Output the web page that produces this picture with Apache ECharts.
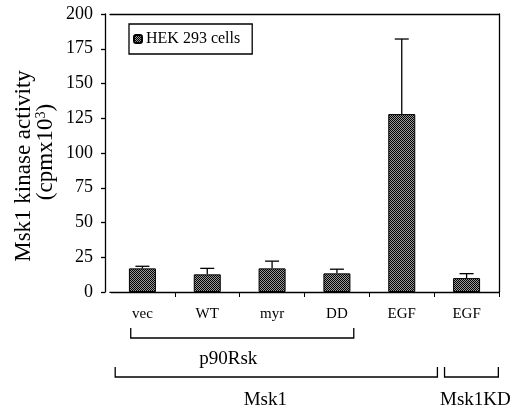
<!DOCTYPE html>
<html><head><meta charset="utf-8">
<script src="https://cdn.jsdelivr.net/npm/echarts@6/dist/echarts.min.js"></script>
<style>html,body{margin:0;padding:0;background:#fff}#c{width:513px;height:410px}</style>
</head><body><div id="c"></div>
<script>
var categories = ['vec', 'WT', 'myr', 'DD', 'EGF', 'EGF'];
var activity = [17, 12.7, 17, 13.4, 128, 10];
var errors = [1.5, 4.3, 5.2, 3, 54, 3.2];
var yTicks = [0, 25, 50, 75, 100, 125, 150, 175, 200];
var seriesName = 'HEK 293 cells';
var yTitle1 = 'Msk1 kinase activity';
var yTitle2 = '(cpmx10{s|3})';
// bracket groups: label, first category, last category
var bracketNames = ['p90Rsk', 'Msk1', 'Msk1KD'];
var bracketFrom = [0, 0, 5];
var bracketTo = [3, 4, 5];

var FONT = 'Liberation Serif';
var pc = document.createElement('canvas');
pc.width = 2; pc.height = 2;
var pctx = pc.getContext('2d');
pctx.fillStyle = '#9a9a9a'; pctx.fillRect(0, 0, 2, 2);
pctx.fillStyle = '#000'; pctx.fillRect(0, 0, 1, 1); pctx.fillRect(1, 1, 1, 1);
var pattern = {image: pc, repeat: 'repeat'};

var chart = echarts.init(document.getElementById('c'));
chart.setOption({
  animation: false,
  backgroundColor: '#fff',
  grid: {left: 110, right: 14, top: 14, bottom: 118},
  legend: {
    left: 129, top: 24, orient: 'horizontal',
    data: [seriesName],
    itemWidth: 8, itemHeight: 8, itemGap: 4,
    padding: [7, 12, 7, 4],
    borderColor: '#000', borderWidth: 1.3,
    textStyle: {fontFamily: FONT, fontSize: 16, color: '#000', padding: [0, 0, 0, -1]}
  },
  xAxis: [{
    type: 'category', data: categories, position: 'bottom',
    axisLine: {onZero: false, lineStyle: {color: '#000', width: 1.3}},
    axisTick: {show: true, length: 5, lineStyle: {color: '#000', width: 1}},
    axisLabel: {fontFamily: FONT, fontSize: 15, color: '#000', margin: 15}
  }, {
    type: 'category', data: categories, position: 'top',
    axisLine: {onZero: false, lineStyle: {color: '#000', width: 1.3}},
    axisTick: {show: false}, axisLabel: {show: false}
  }],
  yAxis: [{
    type: 'value', min: 0, max: 200, interval: 25, offset: 5,
    axisLine: {show: true, onZero: false, lineStyle: {color: '#000', width: 1.3}},
    axisTick: {show: true, length: 4, lineStyle: {color: '#000', width: 1.3}},
    splitLine: {show: false},
    axisLabel: {fontFamily: FONT, fontSize: 18, color: '#000', margin: 12,
      formatter: function (v) { return yTicks.indexOf(v) >= 0 ? String(v) : ''; }}
  }, {
    type: 'value', min: 0, max: 200, interval: 25, position: 'right',
    axisLine: {show: true, onZero: false, lineStyle: {color: '#000', width: 1.3}},
    axisTick: {show: false}, axisLabel: {show: false}, splitLine: {show: false}
  }],
  series: [{
    name: seriesName, type: 'bar', data: activity, barWidth: 27,
    itemStyle: {color: pattern, borderColor: '#000', borderWidth: 1}
  }, {
    type: 'custom', name: 'err',
    data: activity.map(function (v, i) { return [i, v, errors[i]]; }),
    renderItem: function (params, api) {
      var i = api.value(0), v = api.value(1), e = api.value(2);
      var p0 = api.coord([i, v]);
      var p1 = api.coord([i, v + e]);
      var st = {stroke: '#000', lineWidth: 1.3};
      return {type: 'group', children: [
        {type: 'line', shape: {x1: p0[0], y1: p0[1], x2: p1[0], y2: p1[1]}, style: st},
        {type: 'line', shape: {x1: p1[0] - 7, y1: p1[1], x2: p1[0] + 7, y2: p1[1]}, style: st}
      ]};
    },
    z: 3
  }]
});

// brackets beneath the axis, placed with the category scale
function catX(i) { return chart.convertToPixel({xAxisIndex: 0}, i); }
var band = catX(1) - catX(0);
var startOff = [-0.18, -0.42, -0.34];
var endOff = [0.26, 0.55, 0.49];
var topY = [328, 367, 367];
var botY = [338, 377, 377];
var textY = [359, 400, 400];
var textShift = [-14, -11, 4];
var gfx = [
  {type: 'text', rotation: Math.PI / 2, x: 24, y: 166,
    style: {text: yTitle1, font: '23px "Liberation Serif"', fill: '#000', align: 'center', verticalAlign: 'middle'}},
  {type: 'text', rotation: Math.PI / 2, x: 46, y: 152,
    style: {text: yTitle2, font: '23px "Liberation Serif"', fill: '#000', align: 'center', verticalAlign: 'middle',
      rich: {s: {fontSize: 14, fontFamily: FONT, verticalAlign: 'top', padding: [0, 0, 9, 0]}}}}
];
// hide first x tick at the left end: white cover
var gx0 = catX(0) - band / 2;
gfx.push({type: 'line', shape: {x1: gx0, y1: 293, x2: gx0, y2: 299}, style: {stroke: '#fff', lineWidth: 2}, z: 10});
for (var k = 0; k < bracketNames.length; k++) {
  var x1 = catX(bracketFrom[k]) + startOff[k] * band;
  var x2 = catX(bracketTo[k]) + endOff[k] * band;
  gfx.push({type: 'polyline', shape: {points: [[x1, topY[k]], [x1, botY[k]], [x2, botY[k]], [x2, topY[k]]]},
    style: {stroke: '#000', lineWidth: 1.3, fill: null}});
  gfx.push({type: 'text', x: (x1 + x2) / 2 + textShift[k], y: textY[k],
    style: {text: bracketNames[k], font: '19px "Liberation Serif"', fill: '#000', align: 'center', verticalAlign: 'middle'}});
}
chart.setOption({graphic: gfx});
</script></body></html>
